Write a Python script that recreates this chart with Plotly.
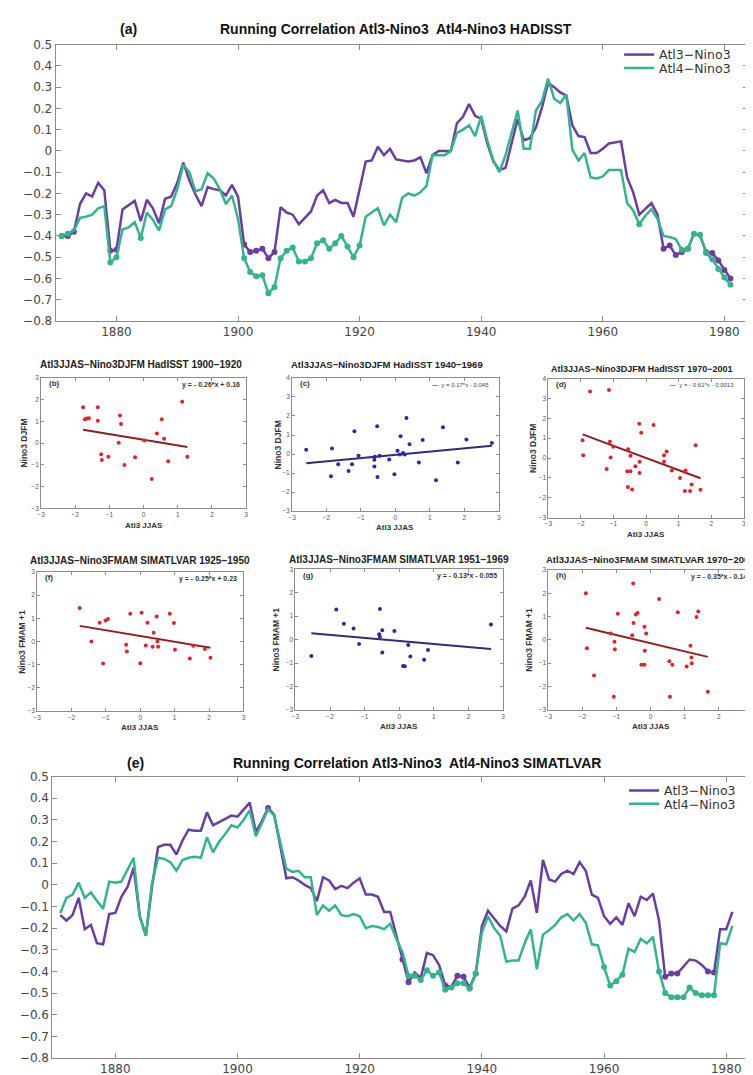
import numpy as np
import plotly.graph_objects as go

W, H = 753, 1075

# ---------------- data ----------------
years = list(range(1871, 1982))

had_atl3 = [-0.40, -0.40, -0.38, -0.25, -0.20, -0.215, -0.15, -0.185, -0.47, -0.465,
            -0.275, -0.255, -0.235, -0.33, -0.23, -0.27, -0.34, -0.225, -0.215, -0.15,
            -0.055, -0.14, -0.205, -0.26, -0.17, -0.18, -0.185, -0.21, -0.16, -0.215,
            -0.44, -0.475, -0.47, -0.46, -0.505, -0.475, -0.265, -0.29, -0.30, -0.345,
            -0.315, -0.285, -0.21, -0.185, -0.245, -0.23, -0.245, -0.245, -0.31, -0.18,
            -0.05, -0.045, 0.02, -0.02, 0.01, -0.04, -0.045, -0.05, -0.045, -0.03,
            -0.105, -0.02, 0.0, 0.0, 0.0, 0.13, 0.16, 0.22, 0.165, 0.15,
            0.035, -0.05, -0.09, -0.08, 0.035, 0.15, 0.05, 0.06, 0.11, 0.205,
            0.32, 0.30, 0.275, 0.26, 0.12, 0.07, 0.065, -0.01, -0.01, 0.01,
            0.035, 0.04, 0.045, -0.125, -0.195, -0.30, -0.27, -0.245, -0.30, -0.46,
            -0.445, -0.49, -0.475, -0.46, -0.39, -0.40, -0.475, -0.48, -0.515, -0.56,
            -0.60]
had_atl4 = [-0.40, -0.39, -0.375, -0.315, -0.31, -0.30, -0.27, -0.26, -0.525, -0.50,
            -0.37, -0.36, -0.335, -0.41, -0.29, -0.325, -0.375, -0.275, -0.26, -0.18,
            -0.065, -0.10, -0.19, -0.18, -0.105, -0.13, -0.18, -0.25, -0.21, -0.32,
            -0.505, -0.57, -0.59, -0.585, -0.67, -0.64, -0.505, -0.47, -0.455, -0.52,
            -0.52, -0.505, -0.435, -0.42, -0.46, -0.435, -0.40, -0.45, -0.50, -0.445,
            -0.31, -0.29, -0.27, -0.35, -0.30, -0.335, -0.22, -0.20, -0.21, -0.195,
            -0.165, -0.02, -0.02, -0.02, 0.0, 0.085, 0.10, 0.12, 0.07, 0.165,
            0.05, -0.045, -0.10, -0.02, 0.085, 0.19, 0.01, 0.01, 0.19, 0.235,
            0.34, 0.245, 0.225, 0.265, 0.005, -0.045, -0.01, -0.125, -0.13, -0.12,
            -0.09, -0.09, -0.09, -0.245, -0.28, -0.345, -0.305, -0.275, -0.32, -0.40,
            -0.405, -0.415, -0.465, -0.46, -0.39, -0.395, -0.48, -0.51, -0.555, -0.595,
            -0.63]
had_atl3_sig = [1871, 1872, 1873, 1879, 1880, 1901, 1902, 1903, 1904, 1905, 1906,
                1970, 1971, 1972, 1973, 1974, 1977, 1978, 1979, 1980, 1981]
had_atl4_sig = [1871, 1872, 1879, 1880, 1884] + list(range(1901, 1921)) + \
               [1966, 1973, 1974, 1975, 1976, 1977, 1978, 1979, 1980, 1981]

sim_atl3 = [-0.14, -0.165, -0.14, -0.06, -0.205, -0.185, -0.27, -0.275, -0.135, -0.13,
            -0.055, -0.01, 0.08, -0.145, -0.235, -0.01, 0.175, 0.185, 0.185, 0.14,
            0.205, 0.255, 0.25, 0.25, 0.335, 0.275, 0.29, 0.305, 0.32, 0.315,
            0.35, 0.38, 0.245, 0.295, 0.355, 0.325, 0.18, 0.03, 0.035, 0.02,
            0.0, -0.015, -0.075, 0.035, 0.02, -0.02, -0.005, -0.015, 0.01, 0.03,
            -0.045, -0.045, -0.055, -0.125, -0.125, -0.23, -0.345, -0.45, -0.405, -0.43,
            -0.315, -0.325, -0.37, -0.465, -0.47, -0.42, -0.425, -0.475, -0.41, -0.19,
            -0.12, -0.155, -0.19, -0.215, -0.11, -0.095, -0.055, 0.02, -0.13, 0.115,
            0.025, 0.015, 0.05, 0.065, 0.05, 0.105, 0.065, -0.045, -0.06, -0.145,
            -0.18, -0.15, -0.185, -0.085, -0.145, -0.055, -0.07, -0.04, -0.165, -0.425,
            -0.41, -0.41, -0.375, -0.345, -0.35, -0.37, -0.40, -0.405, -0.205, -0.205,
            -0.125]
sim_atl4 = [-0.13, -0.06, -0.045, 0.01, -0.06, -0.035, -0.075, -0.11, 0.015, 0.01,
            0.015, 0.07, 0.125, -0.145, -0.235, 0.005, 0.125, 0.12, 0.105, 0.065,
            0.115, 0.125, 0.13, 0.125, 0.22, 0.15, 0.20, 0.235, 0.275, 0.265,
            0.30, 0.345, 0.225, 0.285, 0.35, 0.32, 0.195, 0.075, 0.06, 0.065,
            0.035, 0.035, -0.14, -0.095, -0.12, -0.095, -0.14, -0.145, -0.135, -0.145,
            -0.20, -0.19, -0.195, -0.205, -0.18, -0.25, -0.31, -0.42, -0.42, -0.44,
            -0.395, -0.42, -0.405, -0.485, -0.475, -0.455, -0.455, -0.48, -0.41, -0.22,
            -0.145, -0.20, -0.235, -0.355, -0.35, -0.35, -0.27, -0.205, -0.39, -0.23,
            -0.21, -0.185, -0.15, -0.135, -0.165, -0.135, -0.175, -0.275, -0.28, -0.38,
            -0.465, -0.445, -0.415, -0.295, -0.31, -0.25, -0.27, -0.24, -0.40, -0.50,
            -0.52, -0.52, -0.52, -0.475, -0.50, -0.51, -0.51, -0.51, -0.27, -0.275,
            -0.19]
sim_atl3_sig = [1905, 1927, 1928, 1934, 1936, 1937, 1938, 1939, 1970, 1971, 1972, 1977, 1978]
sim_atl4_sig = list(range(1928, 1940)) + [1960, 1961, 1962, 1963] + list(range(1969, 1979))

# scatter panels
b_x = [-1.77, -1.72, -1.66, -1.60, -1.34, -1.34, -0.69, -0.66, -0.73, -1.24, -1.22,
       -1.03, -0.56, -0.25, 0.02, 0.24, 0.39, 0.53, 0.60, 0.72, 1.13, 1.28]
b_y = [1.65, 1.10, 1.13, 1.15, 1.65, 1.03, 1.27, 0.88, 0.02, -0.51, -0.77,
       -0.62, -1.0, -0.65, 0.12, -1.65, 0.45, 1.10, 0.20, -0.83, 1.90, -0.62]
b_fit = (-0.26, 0.16)

c_x = [-2.59, -1.84, -1.87, -1.66, -1.36, -1.26, -1.19, -1.07, -0.61, -0.60, -0.61,
       -0.53, -0.52, -0.46, -0.18, -0.03, 0.06, 0.13, 0.15, 0.22, 0.27, 0.32, 0.41,
       0.68, 0.79, 1.18, 1.38, 1.81, 2.06, 2.80]
c_y = [0.22, 0.29, -1.17, -0.54, -0.89, -0.54, 1.20, -0.09, -0.30, -0.14, -0.65,
       1.46, -1.20, -0.09, -0.28, -1.06, 0.17, -0.02, 0.94, 0.05, -0.02, 1.90, 0.51,
       -0.44, 0.74, -1.38, 1.41, -0.44, 0.77, 0.58]
c_fit = (0.17, -0.045)

d_x = [-1.95, -1.93, -1.72, -1.14, -1.11, -1.01, -1.09, -1.21, -0.55, -0.48, -0.58,
       -0.48, -0.56, -0.43, -0.33, -0.21, -0.15, -0.20, -0.20, 0.23, 0.55, 0.63, 0.55,
       0.79, 1.04, 1.19, 1.21, 1.19, 1.35, 1.40, 1.52, 1.67]
d_y = [0.90, 0.14, 3.34, 3.42, 0.82, 0.57, 0.03, -0.55, 0.44, 0.11, -0.67,
       -0.67, -1.46, -1.58, -0.42, 1.73, 1.27, -0.19, -0.75, 1.66, 0.14, 0.33, -0.19,
       -0.63, -1.0, -0.69, -0.63, -1.66, -1.66, -1.33, 0.64, -1.60]
d_fit = (-0.61, -0.0013)

f_x = [-1.76, -1.42, -1.18, -1.08, -1.01, -0.94, -0.41, -0.39, -0.29, 0.04, 0.0,
       0.21, 0.16, 0.39, 0.36, 0.48, 0.50, 0.52, 0.86, 0.98, 1.01, 1.44, 1.54, 1.88, 2.04]
f_y = [1.44, -0.01, 0.81, -0.96, 0.90, 0.97, -0.15, -0.44, 1.19, 1.24, -0.94,
       0.80, -0.18, 0.37, -0.23, 1.08, -0.01, -0.23, 1.19, 0.79, -0.36, -0.74, -0.19, -0.33, -0.71]
f_fit = (-0.25, 0.23)

g_x = [-2.54, -1.82, -1.60, -1.32, -1.16, -0.56, -0.58, -0.56, -0.49, -0.49, -0.14,
       0.26, 0.32, 0.11, 0.16, 0.72, 0.83, 2.65]
g_y = [-0.70, 1.29, 0.68, 0.47, -0.19, 1.31, 0.23, 0.12, 0.40, -0.55, 0.37,
       -0.23, -0.72, -1.13, -1.14, -0.86, -0.44, 0.64]
g_fit = (-0.13, -0.055)

h_x = [-1.90, -1.87, -1.66, -1.17, -1.06, -1.05, -1.08, -0.96, -0.51, -0.54, -0.50,
       -0.43, -0.38, -0.18, -0.13, -0.17, -0.27, -0.18, 0.25, 0.55, 0.64, 0.57, 0.80,
       1.06, 1.17, 1.20, 1.21, 1.35, 1.40, 1.68]
h_y = [2.0, -0.36, -1.53, 0.28, -0.08, -0.40, -2.44, 1.12, 2.42, 0.20, 0.73,
       1.09, 1.15, 0.56, 0.28, -0.46, -1.07, -1.07, 1.76, -0.92, -1.07, -2.44, 1.19,
       -1.14, -0.25, -0.76, -1.0, 0.98, 1.22, -2.22]
h_fit = (-0.35, -0.14)

# ---------------- style ----------------
PURPLE = "#6a3ea1"
GREEN = "#34b48e"
RED = "#e0242b"
DRED = "#8e1f22"
BLUE = "#2b2ba0"
NAVY = "#2d2d78"
FRAME = "#8c8c8c"
TICKC = "#555555"
BOLD = "Liberation Sans, Arial, sans-serif"
MAINF = "DejaVu Sans, sans-serif"


def px(x):
    return x / W


def py(y):
    return 1 - y / H


fig = go.Figure()
annotations = []


def note(text, x, y, size, color="#222", xanchor="center", yanchor="middle", angle=0, family=BOLD):
    annotations.append(dict(text=text, x=px(x), y=py(y), xref="paper", yref="paper",
                            showarrow=False, xanchor=xanchor, yanchor=yanchor, textangle=angle,
                            font=dict(family=family, size=size, color=color)))


def sig_vals(series, sig):
    return [v if yr in sig else None for yr, v in zip(years, series)]


# ---------- running correlation panels ----------
def running_panel(xa, ya, atl3, atl4, s3, s4, leg3, leg4):
    fig.add_trace(go.Scatter(x=years, y=atl3, mode="lines", name="Atl3\u2212Nino3",
                             line=dict(color=PURPLE, width=2.5), xaxis=xa, yaxis=ya,
                             legend=leg3))
    fig.add_trace(go.Scatter(x=years, y=sig_vals(atl3, s3), mode="markers", showlegend=False,
                             marker=dict(color=PURPLE, size=6), xaxis=xa, yaxis=ya))
    fig.add_trace(go.Scatter(x=years, y=atl4, mode="lines", name="Atl4\u2212Nino3",
                             line=dict(color=GREEN, width=2.5), xaxis=xa, yaxis=ya,
                             legend=leg4))
    fig.add_trace(go.Scatter(x=years, y=sig_vals(atl4, s4), mode="markers", showlegend=False,
                             marker=dict(color=GREEN, size=6), xaxis=xa, yaxis=ya))


running_panel("x", "y", had_atl3, had_atl4, had_atl3_sig, had_atl4_sig, "legend", "legend2")
running_panel("x2", "y2", sim_atl3, sim_atl4, sim_atl3_sig, sim_atl4_sig, "legend3", "legend4")

main_ax = dict(showline=True, linecolor=FRAME, linewidth=1, mirror="ticks", ticks="inside",
               ticklen=5, tickcolor=FRAME, showgrid=False, zeroline=False,
               tickfont=dict(family=MAINF, size=12, color="#444444"))

yt = [round(v, 1) for v in np.arange(-0.8, 0.51, 0.1)]
ytxt = [("0" if abs(v) < 1e-9 else ("%.1f" % v).replace("-", "\u2212")) for v in yt]
xt = [1880, 1900, 1920, 1940, 1960, 1980]

layout = dict(
    width=W, height=H, margin=dict(l=0, r=0, t=0, b=0),
    paper_bgcolor="white", plot_bgcolor="white", showlegend=True,
    xaxis=dict(main_ax, domain=[px(44), px(742)], range=[1870, 1983.9], tickvals=xt,
               anchor="y"),
    yaxis=dict(main_ax, domain=[py(310), py(30)], range=[-0.8, 0.5], tickvals=yt,
               ticktext=ytxt, anchor="x"),
    xaxis2=dict(main_ax, domain=[px(40.7), px(747.7)], range=[1869.7, 1984.5], tickvals=xt,
                anchor="y2"),
    yaxis2=dict(main_ax, domain=[py(1056.7), py(771.7)], range=[-0.8, 0.5], tickvals=yt,
                ticktext=ytxt, anchor="x2"),
)

leg_common = dict(bgcolor="rgba(0,0,0,0)", borderwidth=0, xanchor="left", yanchor="middle",
                  font=dict(family=MAINF, size=12.5, color="#333333"), itemwidth=30)
layout["legend"] = dict(leg_common, x=px(612), y=py(40.5))
layout["legend2"] = dict(leg_common, x=px(612), y=py(54))
layout["legend3"] = dict(leg_common, x=px(617), y=py(786))
layout["legend4"] = dict(leg_common, x=px(617), y=py(799.5))

note("<b>(a)</b>", 117, 14, 14, "#111")
note("<b>Running Correlation Atl3-Nino3  Atl4-Nino3 HADISST</b>", 387, 14, 14, "#111")
note("<b>(e)</b>", 124, 758, 14, "#111")
note("<b>Running Correlation Atl3-Nino3  Atl4-Nino3 SIMATLVAR</b>", 408, 758, 14, "#111")

# ---------- scatter panels ----------
panels = [
    dict(xs=b_x, ys=b_y, fit=b_fit, pc=RED, lc=DRED, box=(29.3, 236, 367.7, 500), yr=(-3, 3),
         title="Atl3JJAS\u2212Nino3DJFM HadISST 1900\u22121920", tpos=(130, 354), tsz=10,
         ylab="Nino3 DJFM", ylx=12.5, lab="(b)", eq="y = - 0.26*x + 0.16", leg=False),
    dict(xs=c_x, ys=c_y, fit=c_fit, pc=BLUE, lc=NAVY, box=(282.3, 490.7, 367.7, 502.7), yr=(-3, 4),
         title="Atl3JJAS\u2212Nino3DJFM HadISST 1940\u22121969", tpos=(378, 354), tsz=9.5,
         ylab="Nino3 DJFM", ylx=268, lab="(c)", eq="y = 0.17*x - 0.045", leg=True),
    dict(xs=d_x, ys=d_y, fit=d_fit, pc=RED, lc=DRED, box=(540.7, 737.7, 368.3, 509.3), yr=(-3, 4),
         title="Atl3JJAS\u2212Nino3DJFM HadISST 1970\u22122001", tpos=(635, 359), tsz=9,
         ylab="Nino3 DJFM", ylx=525, lab="(d)", eq="y = - 0.61*x - 0.0013", leg=True),
    dict(xs=f_x, ys=f_y, fit=f_fit, pc=RED, lc=DRED, box=(25.3, 233.3, 564.3, 705), yr=(-3, 3),
         title="Atl3JJAS\u2212Nino3FMAM SIMATLVAR 1925\u22121950", tpos=(129, 553), tsz=10,
         ylab="Nino3 FMAM +1", ylx=10.5, lab="(f)", eq="y = - 0.25*x + 0.23", leg=False),
    dict(xs=g_x, ys=g_y, fit=g_fit, pc=BLUE, lc=NAVY, box=(285.7, 495, 561.7, 704), yr=(-3, 3),
         title="Atl3JJAS\u2212Nino3FMAM SIMATLVAR 1951\u22121969", tpos=(390, 552), tsz=10,
         ylab="Nino3 FMAM +1", ylx=266, lab="(g)", eq="y = - 0.13*x - 0.055", leg=False),
    dict(xs=h_x, ys=h_y, fit=h_fit, pc=RED, lc=DRED, box=(540.7, 746.7, 562.3, 704), yr=(-3, 3),
         title="Atl3JJAS\u2212Nino3FMAM SIMATLVAR 1970\u22122001", tpos=(644, 552), tsz=9.5,
         ylab="Nino3 FMAM +1", ylx=521, lab="(h)", eq="y = - 0.35*x - 0.14", leg=False),
]

sc_ax = dict(showline=True, linecolor=FRAME, linewidth=1, mirror="ticks", ticks="inside",
             ticklen=3, tickcolor=FRAME, showgrid=False, zeroline=False,
             tickfont=dict(family=BOLD, size=6.5, color=TICKC))

for i, p in enumerate(panels):
    n = i + 3
    xa, ya = "x%d" % n, "y%d" % n
    l, r, t, b = p["box"]
    xs = np.array(p["xs"])
    slope, icpt = p["fit"]
    xl = np.array([xs.min(), xs.max()])
    fig.add_trace(go.Scatter(x=xl, y=slope * xl + icpt, mode="lines", showlegend=False,
                             line=dict(color=p["lc"], width=2), xaxis=xa, yaxis=ya))
    fig.add_trace(go.Scatter(x=p["xs"], y=p["ys"], mode="markers", showlegend=False,
                             marker=dict(color=p["pc"], size=4), xaxis=xa, yaxis=ya))
    y0, y1 = p["yr"]
    layout["xaxis%d" % n] = dict(sc_ax, domain=[px(l), px(r)], range=[-3, 3], dtick=1,
                                 anchor=ya)
    layout["yaxis%d" % n] = dict(sc_ax, domain=[py(b), py(t)], range=[y0, y1], dtick=1,
                                 anchor=xa)
    tx, ty = p["tpos"]
    note("<b>%s</b>" % p["title"], tx, ty, p["tsz"], "#222")
    note("<b>Atl3 JJAS</b>", (l + r) / 2, b + 17, 8, "#333")
    note("<b>%s</b>" % p["ylab"], p["ylx"], (t + b) / 2, 8.5, "#333", angle=-90)
    note("<b>%s</b>" % p["lab"], l + 6, t + 6, 8, "#333", xanchor="left")
    if p["leg"]:
        eqt = '<span style="color:%s"><b>\u2014</b></span>  %s' % (p["lc"], p["eq"])
        note(eqt, r - 8, t + 7, 6, "#444", xanchor="right")
    else:
        note("<b>%s</b>" % p["eq"], r - 4, t + 7, 7, "#333", xanchor="right")

layout["annotations"] = annotations
fig.update_layout(**layout)
fig.write_html("out.html")
